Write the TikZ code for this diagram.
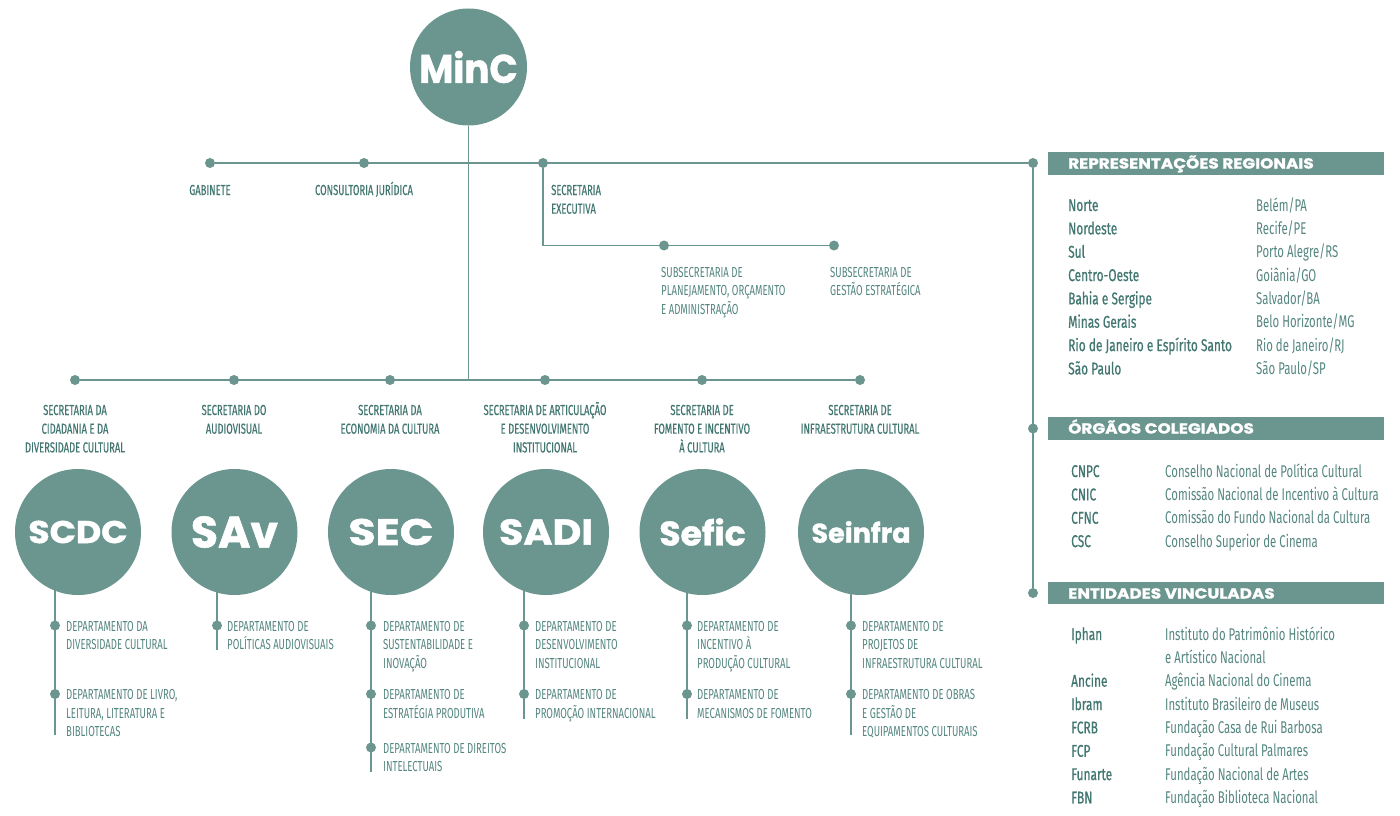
\documentclass[tikz,border=0pt]{standalone}
\usepackage{fontspec}
\setmainfont{Fira Sans}
\newfontfamily\cond{Fira Sans}[FakeStretch=0.66]
\newfontfamily\condm{Fira Sans}[FakeStretch=0.65,FakeBold=0.4]
\newfontfamily\condp{Fira Sans}[FakeStretch=0.67]
\newfontfamily\condpb{Fira Sans}[FakeStretch=0.70,FakeBold=0.6]
\newfontfamily\disp{Poppins}[BoldFeatures={FakeBold=1.2}]
\usetikzlibrary{backgrounds}
\definecolor{mteal}{RGB}{107,149,143}
\definecolor{mtxt}{RGB}{84,134,128}
\definecolor{mdark}{RGB}{66,118,112}
\newcommand{\circtxt}[3]{\fontsize{#1}{#1}\selectfont\scalebox{#2}[1]{#3}}
\begin{document}
\begin{tikzpicture}[x=1pt,y=-1pt,
  ln/.style={draw=mteal, line width=1.6pt},
  dotn/.style={circle, fill=mteal, inner sep=0pt, minimum size=10pt},
  bigc/.style={circle, fill=mteal, inner sep=0pt, minimum size=126pt, text=white, font=\disp\bfseries},
  lbl/.style={text=mtxt, font=\cond\fontsize{14.5}{18.7}\selectfont, inner sep=0pt, align=center, anchor=base},
  slbl/.style={lbl, text=mdark, font=\condm\fontsize{14.5}{18.7}\selectfont},
  dept/.style={lbl, align=left, anchor=base west},
  hdr/.style={fill=mteal, draw=none},
  hdrt/.style={text=white, font=\disp\bfseries\fontsize{14.5}{16}\selectfont, anchor=base west, inner sep=0pt},
  regl/.style={text=mdark, font=\condpb\fontsize{17}{23.35}\selectfont, anchor=base west, inner sep=0pt, align=left},
  regr/.style={text=mtxt, font=\condp\fontsize{17}{23.35}\selectfont, anchor=base west, inner sep=0pt, align=left}
]
\useasboundingbox (0,0) rectangle (1400,816);

% ---------- MinC and top row ----------
\node[bigc, minimum size=117pt] (minc) at (468.5,67) {\circtxt{40}{0.93}{MinC}};
\node[dotn] (gab) at (210,163) {};
\node[dotn] (cons) at (364,163) {};
\node[dotn] (sexe) at (543,163) {};
\node[dotn] (rt) at (1033,163) {};
\coordinate (row) at (468.5,380);
\begin{scope}[on background layer]
\draw[ln] (gab) -- (rt);
\draw[ln] (minc) -- (row);
\end{scope}
\node[slbl] (lgab) at (210,195) {GABINETE};
\node[slbl] (lcons) at (364,195) {CONSULTORIA JURÍDICA};
\node[slbl, align=left, anchor=base west] (lsexe) at (551,213.7) {SECRETARIA\\EXECUTIVA};

% ---------- executive branch ----------
\node[dotn] (ss1) at (664,245.5) {};
\node[dotn] (ss2) at (834,245.5) {};
\begin{scope}[on background layer]
\draw[ln] (sexe) |- (ss2);
\end{scope}
\node[dept] (lss1) at (661,314.4) {SUBSECRETARIA DE\\PLANEJAMENTO, ORÇAMENTO\\E ADMINISTRAÇÃO};
\node[dept] (lss2) at (830,295.7) {SUBSECRETARIA DE\\GESTÃO ESTRATÉGICA};

% ---------- right column ----------
\node[dotn] (og) at (1033,428.5) {};
\node[dotn] (ev) at (1033,593) {};
\begin{scope}[on background layer]
\draw[ln] (rt) -- (ev);
\end{scope}
\fill[hdr] (1048,152) rectangle (1384,175);
\fill[hdr] (1048,417) rectangle (1384,440);
\fill[hdr] (1048,582) rectangle (1384,604);
\node[hdrt] (h1) at (1068,168.5) {\scalebox{1.16}[1]{REPRESENTAÇÕES REGIONAIS}};
\node[hdrt] (h2) at (1068,433.5) {\scalebox{1.16}[1]{ÓRGÃOS COLEGIADOS}};
\node[hdrt] (h3) at (1068,598.5) {\scalebox{1.16}[1]{ENTIDADES VINCULADAS}};

\node[regl] (r1) at (1068,374.45) {Norte\\Nordeste\\Sul\\Centro-Oeste\\Bahia e Sergipe\\Minas Gerais\\Rio de Janeiro e Espírito Santo\\São Paulo};
\node[regr] (r2) at (1256,374.45) {Belém/PA\\Recife/PE\\Porto Alegre/RS\\Goiânia/GO\\Salvador/BA\\Belo Horizonte/MG\\Rio de Janeiro/RJ\\São Paulo/SP};

\node[regl] (o1) at (1071,547.05) {CNPC\\CNIC\\CFNC\\CSC};
\node[regr] (o2) at (1165,547.05) {Conselho Nacional de Política Cultural\\Comissão Nacional de Incentivo à Cultura\\Comissão do Fundo Nacional da Cultura\\Conselho Superior de Cinema};

\node[regl] (e1) at (1071,803.45) {Iphan\\\mbox{}\\Ancine\\Ibram\\FCRB\\FCP\\Funarte\\FBN};
\node[regr] (e2) at (1165,803.45) {Instituto do Patrimônio Histórico\\e Artístico Nacional\\Agência Nacional do Cinema\\Instituto Brasileiro de Museus\\Fundação Casa de Rui Barbosa\\Fundação Cultural Palmares\\Fundação Nacional de Artes\\Fundação Biblioteca Nacional};

% ---------- secretariats row ----------
\node[dotn] (s1) at (75,380) {};
\node[dotn] (s2) at (234,380) {};
\node[dotn] (s3) at (390,380) {};
\node[dotn] (s4) at (545,380) {};
\node[dotn] (s5) at (702,380) {};
\node[dotn] (s6) at (860,380) {};
\begin{scope}[on background layer]
\draw[ln] (s1) -- (s6);
\end{scope}
\node[slbl] (ls1) at (75,452.4) {SECRETARIA DA\\CIDADANIA E DA\\DIVERSIDADE CULTURAL};
\node[slbl] (ls2) at (234,433.7) {SECRETARIA DO\\AUDIOVISUAL};
\node[slbl] (ls3) at (390,433.7) {SECRETARIA DA\\ECONOMIA DA CULTURA};
\node[slbl] (ls4) at (545,452.4) {SECRETARIA DE ARTICULAÇÃO\\E DESENVOLVIMENTO\\INSTITUCIONAL};
\node[slbl] (ls5) at (702,452.4) {SECRETARIA DE\\FOMENTO E INCENTIVO\\À CULTURA};
\node[slbl] (ls6) at (860,433.7) {SECRETARIA DE\\INFRAESTRUTURA CULTURAL};

\node[bigc] (c1) at (78,532) {\circtxt{31.5}{1.1}{SCDC}};
\node[bigc] (c2) at (234.5,532) {\circtxt{44}{1.0}{SAv}};
\node[bigc] (c3) at (391,532) {\circtxt{37}{1.2}{SEC}};
\node[bigc] (c4) at (546,532) {\circtxt{36}{1.1}{SADI}};
\node[bigc] (c5) at (702.5,532) {\circtxt{34}{1.02}{Sefic}};
\node[bigc] (c6) at (861,532) {\circtxt{27}{1.0}{Seinfra}};

% ---------- departments ----------
\node[dotn] (d11) at (55,625.5) {};
\node[dotn] (d12) at (55,694) {};
\coordinate (e1end) at (55,735);
\node[dotn] (d21) at (217,625.5) {};
\coordinate (e2end) at (217,650);
\node[dotn] (d31) at (371,625.5) {};
\node[dotn] (d32) at (371,694) {};
\node[dotn] (d33) at (371,747.5) {};
\coordinate (e3end) at (371,772);
\node[dotn] (d41) at (524,625.5) {};
\node[dotn] (d42) at (524,694) {};
\coordinate (e4end) at (524,719);
\node[dotn] (d51) at (687,625.5) {};
\node[dotn] (d52) at (687,694) {};
\coordinate (e5end) at (687,719);
\node[dotn] (d61) at (851,625.5) {};
\node[dotn] (d62) at (851,694) {};
\coordinate (e6end) at (851,735);

\begin{scope}[on background layer]
\draw[ln] (d11 |- c1.center) -- (e1end);
\draw[ln] (d21 |- c2.center) -- (e2end);
\draw[ln] (d31 |- c3.center) -- (e3end);
\draw[ln] (d41 |- c4.center) -- (e4end);
\draw[ln] (d51 |- c5.center) -- (e5end);
\draw[ln] (d61 |- c6.center) -- (e6end);
\end{scope}

\node[dept] (t11) at (66,649.7) {DEPARTAMENTO DA\\DIVERSIDADE CULTURAL};
\node[dept] (t12) at (66,736.9) {DEPARTAMENTO DE LIVRO,\\LEITURA, LITERATURA E\\BIBLIOTECAS};
\node[dept] (t21) at (227,649.7) {DEPARTAMENTO DE\\POLÍTICAS AUDIOVISUAIS};
\node[dept] (t31) at (383,668.4) {DEPARTAMENTO DE\\SUSTENTABILIDADE E\\INOVAÇÃO};
\node[dept] (t32) at (383,718.2) {DEPARTAMENTO DE\\ESTRATÉGIA PRODUTIVA};
\node[dept] (t33) at (383,771.7) {DEPARTAMENTO DE DIREITOS\\INTELECTUAIS};
\node[dept] (t41) at (535,668.4) {DEPARTAMENTO DE\\DESENVOLVIMENTO\\INSTITUCIONAL};
\node[dept] (t42) at (535,718.2) {DEPARTAMENTO DE\\PROMOÇÃO INTERNACIONAL};
\node[dept] (t51) at (697,668.4) {DEPARTAMENTO DE\\INCENTIVO À\\PRODUÇÃO CULTURAL};
\node[dept] (t52) at (697,718.2) {DEPARTAMENTO DE\\MECANISMOS DE FOMENTO};
\node[dept] (t61) at (862,668.4) {DEPARTAMENTO DE\\PROJETOS DE\\INFRAESTRUTURA CULTURAL};
\node[dept] (t62) at (862,736.9) {DEPARTAMENTO DE OBRAS\\E GESTÃO DE\\EQUIPAMENTOS CULTURAIS};
\end{tikzpicture}
\end{document}
